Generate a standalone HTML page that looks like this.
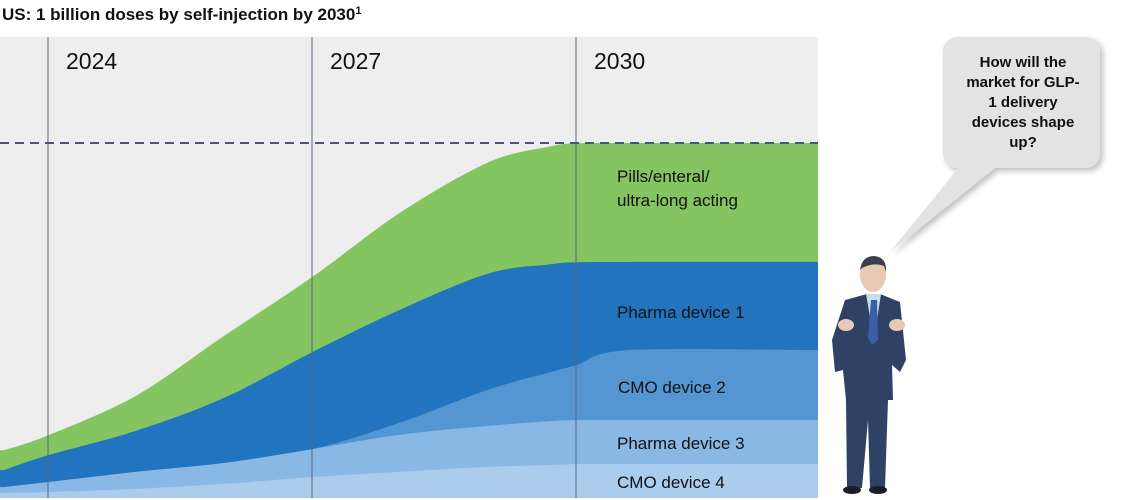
<!DOCTYPE html>
<html><head><meta charset="utf-8"><style>
body{margin:0;width:1129px;height:500px;background:#fff;overflow:hidden;font-family:"Liberation Sans",sans-serif}
svg{position:absolute;left:0;top:0}
</style></head><body>
<svg width="1129" height="500">
<defs><filter id="sh" x="-20%" y="-20%" width="140%" height="140%"><feDropShadow dx="3" dy="3" stdDeviation="3" flood-color="#000" flood-opacity="0.25"/></filter></defs>
<text x="2" y="20" font-size="17" font-weight="bold" fill="#111">US: 1 billion doses by self-injection by 2030<tspan font-size="11" dy="-6">1</tspan></text>
<rect x="0" y="37" width="818" height="461" fill="#eeeeee"/>
<g id="areas"></g>
<g id="grid"></g>
<line x1="0" y1="143" x2="818" y2="143" stroke="#4a5570" stroke-width="2" stroke-dasharray="9,6"/>
<g font-size="17" fill="#111">
<text x="617" y="182">Pills/enteral/</text>
<text x="617" y="206">ultra-long acting</text>
<text x="617" y="318">Pharma device 1</text>
<text x="618" y="393">CMO device 2</text>
<text x="617" y="449">Pharma device 3</text>
<text x="617" y="488">CMO  device 4</text>
</g>
<!-- speech bubble -->
<g filter="url(#sh)">
<polygon points="965,160 1005,160 890,252" fill="#e3e3e3"/>
<rect x="943" y="37" width="157" height="131" rx="14" fill="#e3e3e3"/>
</g>
<g font-size="15" font-weight="bold" fill="#111" text-anchor="middle">
<text x="1023" y="67">How will the</text><text x="1023" y="87">market for GLP-</text><text x="1023" y="107">1 delivery</text><text x="1023" y="127">devices shape</text><text x="1023" y="147">up?</text>
</g>
<!-- person -->
<g>
<ellipse cx="873" cy="275" rx="13" ry="17" fill="#e8c9b5"/>
<path d="M860 270 Q862 256 874 256 Q887 257 886 272 L884 266 Q874 262 862 268Z" fill="#3a3f4a"/>
<path d="M845 300 L867 294 L880 294 L900 302 L906 360 L900 372 L892 365 L893 400 L888 400 L885 488 L870 488 L868 420 L862 488 L847 488 L846 400 L843 370 L835 372 L832 340 Z" fill="#2f4164"/>
<path d="M866 294 L881 294 L874 340 Z" fill="#c8dcea"/>
<path d="M871 300 L877 300 L878 340 L872 345 L868 338 Z" fill="#3860a8"/>
<ellipse cx="846" cy="325" rx="8" ry="6" fill="#e8c9b5"/>
<ellipse cx="897" cy="325" rx="8" ry="6" fill="#e8c9b5"/>
<ellipse cx="852" cy="490" rx="9" ry="4" fill="#1a1d24"/>
<ellipse cx="878" cy="490" rx="9" ry="4" fill="#1a1d24"/>
</g>
</svg>
<script>
const years=[2023.5,2024,2025,2026,2027,2028,2029,2029.7,2030,2030.6,2032.75];
const cmo4=[11,14,23,37,56,71,85,90,93,93,93];
const pharma3=[17,28,48,59,79,105,116,124,124,124,124];
const cmo2=[0,0,0,0,0,34,102,138,155,198,198];
const pharma1=[48,76,116,184,274,319,328,305,291,249,249];
const pills=[56,56,99,175,212,274,314,333,336,336,336];
const gridYears=[2024,2027,2030];
const gridLabels=["2024","2027","2030"];
const X=y=>48+(y-2024)*88;
const Y=v=>497-v*0.354;
const ns="http://www.w3.org/2000/svg";
function smooth(pts){let d="M"+pts[0][0]+","+pts[0][1];for(let i=0;i<pts.length-1;i++){const p0=pts[Math.max(0,i-1)],p1=pts[i],p2=pts[i+1],p3=pts[Math.min(pts.length-1,i+2)];const t=6;d+=` C${p1[0]+(p2[0]-p0[0])/t},${p1[1]+(p2[1]-p0[1])/t} ${p2[0]-(p3[0]-p1[0])/t},${p2[1]-(p3[1]-p1[1])/t} ${p2[0]},${p2[1]}`;}return d;}
const series=[["cmo-device-4",cmo4,"#aacdee"],["pharma-device-3",pharma3,"#8ab8e4"],["cmo-device-2",cmo2,"#5496d2"],["pharma-device-1",pharma1,"#2374bf"],["pills-enteral",pills,"#84c562"]];
const g=document.getElementById("areas");
let cum=years.map(()=>0);const layers=[];
series.forEach(s=>{const lo=cum.slice();cum=cum.map((c,i)=>c+s[1][i]);layers.push([s,lo,cum.slice()]);});
layers.reverse().forEach(([s,lo,hi])=>{
 const top=years.map((y,i)=>[X(y),Y(hi[i])]);
 let d=smooth(top)+` L818,${Y(hi[hi.length-1])} L818,498 L0,498 L0,${Y(hi[0])} Z`;
 const p=document.createElementNS(ns,"path");p.setAttribute("d",d);p.setAttribute("fill",s[2]);
 
 
 g.appendChild(p);
});
const gg=document.getElementById("grid");
gridYears.forEach((yr,i)=>{
 const l=document.createElementNS(ns,"line");l.setAttribute("x1",X(yr));l.setAttribute("x2",X(yr));l.setAttribute("y1",37);l.setAttribute("y2",498);l.setAttribute("stroke","#5a6680");l.setAttribute("stroke-width","1");
 
 
 gg.appendChild(l);
 const t=document.createElementNS(ns,"text");t.setAttribute("x",X(yr)+18);t.setAttribute("y",69);t.setAttribute("font-size","23");t.setAttribute("fill","#111");t.textContent=gridLabels[i];
 
 
 gg.appendChild(t);
});
</script>
</body></html>
